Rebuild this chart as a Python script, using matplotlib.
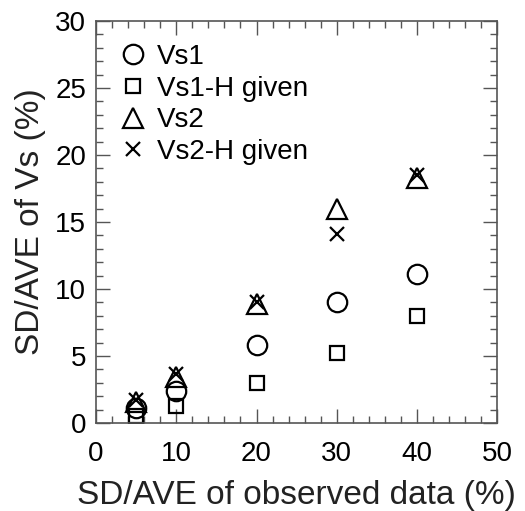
import matplotlib
matplotlib.use('Agg')
import matplotlib.pyplot as plt
from matplotlib.ticker import MultipleLocator

plt.rcParams['font.family'] = ['Liberation Sans', 'DejaVu Sans']

# SD/AVE of observed data (%)
x_obs = [5, 10, 20, 30, 40]
# SD/AVE of Vs (%)
vs1 = [1.1, 2.4, 5.8, 9.0, 11.1]
vs1_h = [0.5, 1.3, 3.0, 5.2, 8.0]
vs2 = [1.55, 3.45, 8.9, 16.0, 18.3]
vs2_h = [1.75, 3.7, 9.05, 14.1, 18.5]
names = ['Vs1', 'Vs1-H given', 'Vs2', 'Vs2-H given']

fig = plt.figure(figsize=(5.25, 5.11), dpi=100)
ax = fig.add_axes([0.183, 0.172, 0.764, 0.787])

lw = 1.6
style = dict(mfc='none', mec='black', mew=lw, ls='none')
ax.plot(x_obs, vs1, 'o', ms=14, label=names[0], **style)
ax.plot(x_obs, vs1_h, 's', ms=10.5, label=names[1], **style)
ax.plot(x_obs, vs2, '^', ms=14.5, label=names[2], **style)
ax.plot(x_obs, vs2_h, 'x', ms=10, label=names[3], **style)

ax.set_xlim(0, 50)
ax.set_ylim(0, 30)
ax.xaxis.set_major_locator(MultipleLocator(10))
ax.xaxis.set_minor_locator(MultipleLocator(2))
ax.yaxis.set_major_locator(MultipleLocator(5))
ax.yaxis.set_minor_locator(MultipleLocator(1))
ax.tick_params(which='both', direction='in', top=True, right=True, width=1, color='#555555')
ax.tick_params(which='major', length=10, labelsize=20)
ax.tick_params(axis='x', which='major', pad=13)
ax.tick_params(axis='y', which='major', pad=7)
ax.tick_params(which='minor', length=5)
for s in ax.spines.values():
    s.set_color('#555555')
    s.set_linewidth(1.2)

ax.set_xlabel('SD/AVE of observed data (%)', fontsize=24, labelpad=9, color='#222222')
ax.set_ylabel('SD/AVE of Vs (%)', fontsize=24, labelpad=7, color='#222222')

ax.legend(loc='upper left', frameon=False, fontsize=20,
          handletextpad=0.35, labelspacing=0.2, borderaxespad=0.0,
          handlelength=1.0, bbox_to_anchor=(0.03, 0.97))

fig.savefig('out.png', dpi=100)
